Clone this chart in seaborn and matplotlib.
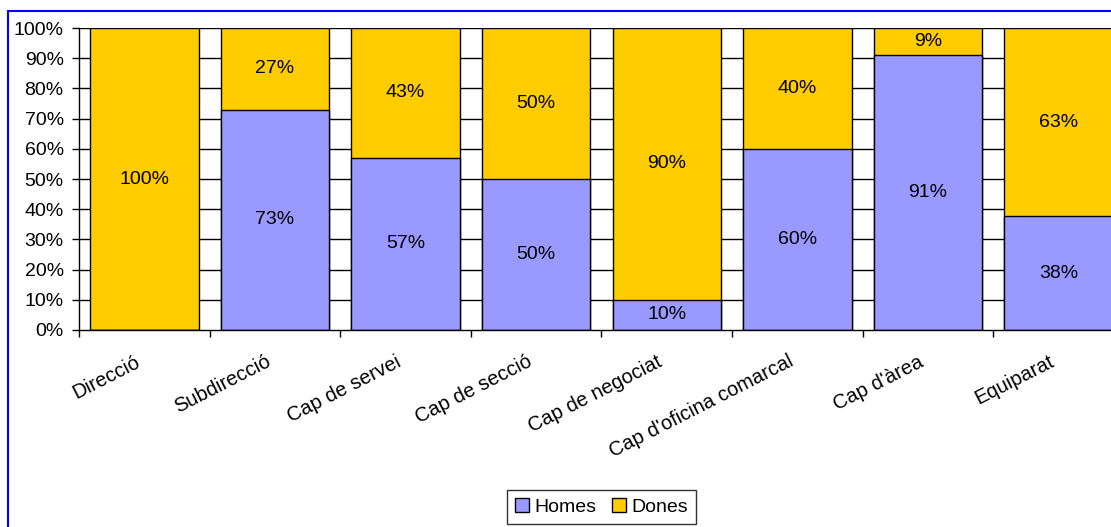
import matplotlib
matplotlib.use("Agg")
import matplotlib.pyplot as plt
import matplotlib.patches as mpatches
import matplotlib.transforms as mtransforms
from matplotlib.ticker import FixedLocator
import seaborn as sns
import pandas as pd

categories = ["Direcció", "Subdirecció", "Cap de servei", "Cap de secció",
              "Cap de negociat", "Cap d'oficina comarcal", "Cap d'àrea", "Equiparat"]
homes = [0, 73, 57, 50, 10, 60, 91, 38]
dones = [100, 27, 43, 50, 90, 40, 9, 63]

COL_HOMES = "#9999FF"
COL_DONES = "#FFCC00"
FS = 14

sns.set_theme(style="white")
plt.rcParams["font.family"] = ["Liberation Sans", "DejaVu Sans"]
plt.rcParams["text.color"] = "black"
plt.rcParams["xtick.color"] = "black"
plt.rcParams["ytick.color"] = "black"

# shares normalised to 100 % per category
totals = [h + d for h, d in zip(homes, dones)]
df = pd.DataFrame({
    "categoria": categories,
    "homes_pct": [h / t * 100 for h, t in zip(homes, totals)],
    "total_pct": [100.0] * len(categories),
})

W, H = 1111, 527
fig = plt.figure(figsize=(W / 100, H / 100), dpi=100)
fig.patch.set_facecolor("white")

x0, x1 = 79, 1124
y_top, y_bot = 28, 330
ax = fig.add_axes([x0 / W, (H - y_bot) / H, (x1 - x0) / W, (y_bot - y_top) / H])

# horizontal gridlines behind the bars
for v in range(10, 101, 10):
    ax.axhline(v, color="black", lw=1.0, zorder=0)

bar_w = 0.83
sns.barplot(data=df, x="categoria", y="total_pct", color=COL_DONES, width=bar_w,
            edgecolor="black", linewidth=1.0, saturation=1, ax=ax, zorder=2)
sns.barplot(data=df, x="categoria", y="homes_pct", color=COL_HOMES, width=bar_w,
            edgecolor="black", linewidth=1.0, saturation=1, ax=ax, zorder=3)

# percentage labels centred in each segment
for i, (h, d) in enumerate(zip(homes, dones)):
    hp = df["homes_pct"][i]
    if h > 0:
        ax.text(i, hp / 2, f"{h}%", ha="center", va="center", fontsize=FS,
                color="black", zorder=5)
    if d > 0:
        ax.text(i, hp + (100 - hp) / 2, f"{d}%", ha="center", va="center",
                fontsize=FS, color="black", zorder=5)

ax.set_ylim(0, 100)
ax.set_xlim(-0.5, len(categories) - 0.5)
ax.set_yticks(range(0, 101, 10))
ax.set_yticklabels([f"{v}%" for v in range(0, 101, 10)], fontsize=FS)
ax.set_xlabel("")
ax.set_ylabel("")

# category labels: rotated, anchored at their upper-right corner below each slot
ax.set_xticks(range(len(categories)))
ax.set_xticklabels([""] * len(categories))
label_offset = mtransforms.ScaledTranslation(-10 / 100, -22 / 100, fig.dpi_scale_trans)
for i, cat in enumerate(categories):
    ax.text(i, 0, cat, transform=ax.get_xaxis_transform() + label_offset,
            rotation=27, ha="right", va="top", rotation_mode="anchor",
            fontsize=14.5, color="black", clip_on=False)

ax.xaxis.set_minor_locator(FixedLocator([i - 0.5 for i in range(len(categories) + 1)]))
ax.tick_params(axis="x", which="major", length=0)
ax.tick_params(axis="x", which="minor", length=5, width=1, color="black",
               direction="out", bottom=True)
ax.tick_params(axis="y", length=5, width=1, color="black", direction="out",
               left=True, pad=6)

for s in ["top", "right"]:
    ax.spines[s].set_visible(False)
for s in ["left", "bottom"]:
    ax.spines[s].set_color("black")
    ax.spines[s].set_linewidth(1.0)
    ax.spines[s].set_zorder(6)

handles = [mpatches.Patch(facecolor=COL_HOMES, edgecolor="black", lw=1, label="Homes"),
           mpatches.Patch(facecolor=COL_DONES, edgecolor="black", lw=1, label="Dones")]
leg = ax.legend(handles=handles, loc="center", bbox_to_anchor=(0.5, -0.586), ncol=2,
                frameon=True, fancybox=False, edgecolor="black", fontsize=FS,
                handlelength=0.7, handleheight=0.7, handletextpad=0.3,
                columnspacing=0.8, borderpad=0.4)
leg.get_frame().set_linewidth(1.0)

# blue outer frame of the chart area
frame = mpatches.Rectangle((8 / W, -0.2), 1.2, (H - 11) / H + 0.2,
                           transform=fig.transFigure, fill=False,
                           edgecolor="#0000FF", lw=1.5, clip_on=False)
fig.patches.append(frame)

fig.savefig("out.png", dpi=100, facecolor="white")
